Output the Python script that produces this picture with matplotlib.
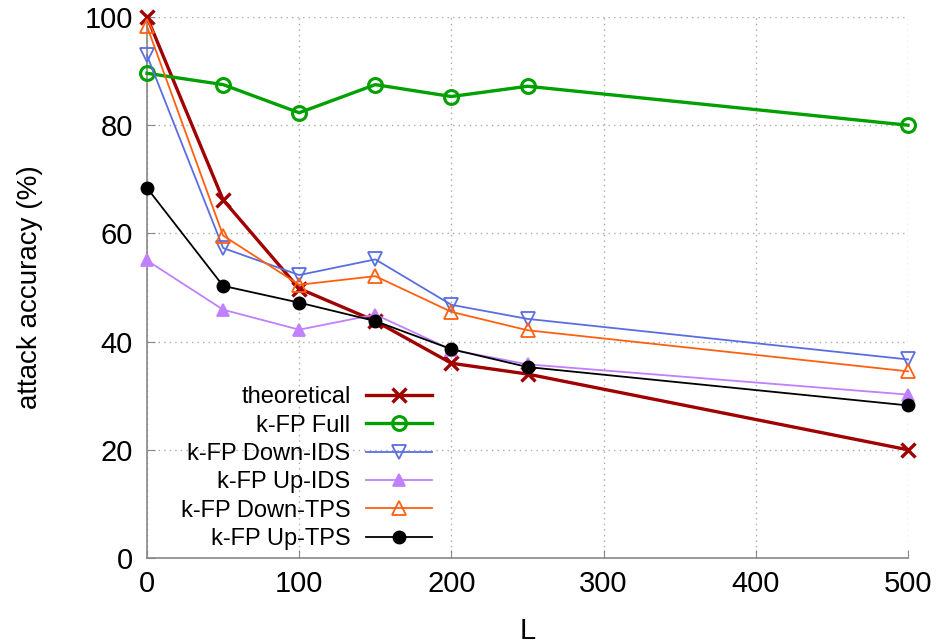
import matplotlib
matplotlib.use("Agg")
import matplotlib.pyplot as plt

plt.rcParams["font.family"] = ["Liberation Sans", "DejaVu Sans"]

L_values = [0, 50, 100, 150, 200, 250, 500]

theoretical = [100, 66.2, 49.8, 43.8, 36.0, 34.0, 20.0]
kfp_full = [89.6, 87.5, 82.3, 87.5, 85.3, 87.2, 80.0]
kfp_down_ids = [92.9, 57.3, 52.3, 55.2, 46.8, 44.2, 36.7]
kfp_up_ids = [55.0, 45.9, 42.2, 45.0, 38.5, 35.8, 30.2]
kfp_down_tps = [98.3, 59.6, 50.5, 52.1, 45.5, 42.1, 34.5]
kfp_up_tps = [68.4, 50.3, 47.2, 43.8, 38.6, 35.3, 28.2]

x_ticks = [0, 100, 200, 300, 400, 500]
y_ticks = [0, 20, 40, 60, 80, 100]

series = [
    ("theoretical", theoretical, dict(color="#a00000", lw=2.4, marker="x", ms=10, mew=2.4)),
    ("k-FP Full", kfp_full, dict(color="#00a000", lw=2.4, marker="o", ms=10, mew=2.2, mfc="none")),
    ("k-FP Down-IDS", kfp_down_ids, dict(color="#5a6ee0", lw=1.3, marker="v", ms=10, mew=1.3, mfc="none")),
    ("k-FP Up-IDS", kfp_up_ids, dict(color="#c080ff", lw=1.3, marker="^", ms=9, mew=1.3)),
    ("k-FP Down-TPS", kfp_down_tps, dict(color="#ff6010", lw=1.3, marker="^", ms=10, mew=1.3, mfc="none")),
    ("k-FP Up-TPS", kfp_up_tps, dict(color="black", lw=1.3, marker="o", ms=9, mew=1.0)),
]

fig = plt.figure(figsize=(9.39, 6.44), dpi=100)
ax = fig.add_axes([147 / 939, 86 / 644, 761 / 939, 541 / 644])

for label, vals, style in series:
    ax.plot(L_values, vals, label=label, clip_on=False, zorder=3, **style)

ax.set_xlim(0, 500)
ax.set_ylim(0, 100)
ax.set_xticks(x_ticks)
ax.set_yticks(y_ticks)
ax.tick_params(direction="in", length=6, color="#888888", labelsize=21)
ax.tick_params(axis="x", pad=9)
ax.tick_params(axis="y", pad=10)
ax.grid(True, color="#aaaaaa", linestyle=(0, (1, 3)), linewidth=1.0)
for side in ("top", "right"):
    ax.spines[side].set_visible(False)
for side in ("left", "bottom"):
    ax.spines[side].set_color("#888888")
    ax.spines[side].set_linewidth(1.2)

ax.set_xlabel("L", fontsize=21, labelpad=13)
ax.set_ylabel("attack accuracy (%)", fontsize=20, labelpad=30)

ax.legend(loc="lower right", bbox_to_anchor=(432 / 939, 94 / 644),
          bbox_transform=fig.transFigure, frameon=False, markerfirst=False,
          fontsize=17, handlelength=2.8, labelspacing=0.27, borderpad=0,
          handletextpad=0.65, borderaxespad=0)

fig.savefig("out.png", dpi=100)
